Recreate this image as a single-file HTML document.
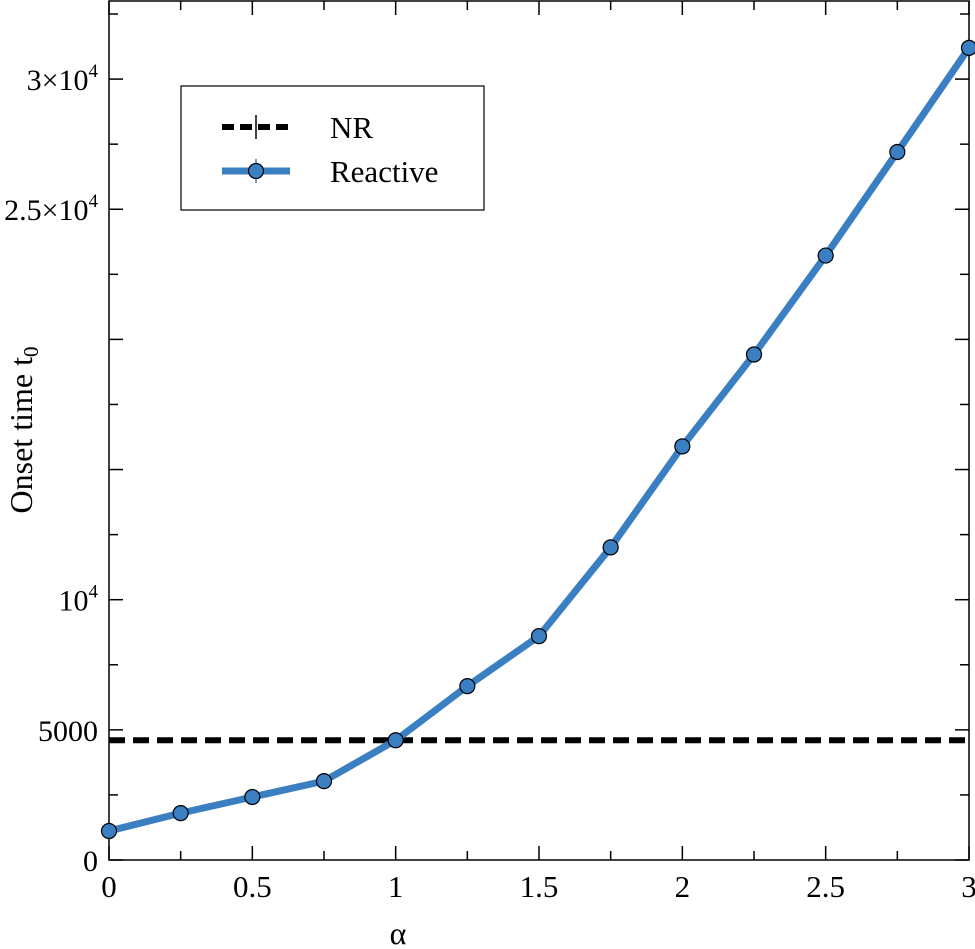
<!DOCTYPE html>
<html><head><meta charset="utf-8"><style>
body{margin:0;background:#fff}
svg{display:block;font-family:"Liberation Serif","Times New Roman",serif}
</style></head><body>
<svg id="c" width="975" height="949" viewBox="0 0 975 949">
</svg>
<script>
const alphas=[0,0.25,0.5,0.75,1,1.25,1.5,1.75,2,2.25,2.5,2.75,3];
const reactive=[1113,1800,2420,3030,4600,6680,8600,12010,15890,19420,23220,27200,31200];
const nrValue=4600;
const xTicks=[0,0.5,1,1.5,2,2.5,3];
const xTickLabels=["0","0.5","1","1.5","2","2.5","3"];
const yTicks=[0,5000,10000,25000,30000];
const yTickLabels=["0","5000","10^4","2.5×10^4","3×10^4"];
const NS="http://www.w3.org/2000/svg";
const svg=document.getElementById('c');
const L=109,R=969,T=1,B=860,YMAX=33000;
const X=a=>L+(a/3)*(R-L);
const Y=v=>B-(v/YMAX)*(B-T);
function mk(t,a,p){const e=document.createElementNS(NS,t);for(const k in a)e.setAttribute(k,a[k]);(p||svg).appendChild(e);return e;}
const fr=mk('rect',{x:L,y:T,width:R-L,height:B-T,fill:'none',stroke:'#000','stroke-width':1.5});


for(let a=0;a<=3.001;a+=0.25){const maj=Math.abs(a*2-Math.round(a*2))<1e-6;const len=maj?14:9;
mk('line',{x1:X(a),x2:X(a),y1:B,y2:B-len,stroke:'#000','stroke-width':1.5});
mk('line',{x1:X(a),x2:X(a),y1:T,y2:T+len,stroke:'#000','stroke-width':1.5});}
xTicks.forEach((a,i)=>{const t=mk('text',{x:X(a),y:897,'font-size':31,'text-anchor':'middle'});t.textContent=xTickLabels[i];

});
for(let v=0;v<=YMAX;v+=2500){const maj=v%5000===0;const len=maj?14:9;
mk('line',{x1:L,x2:L+len,y1:Y(v),y2:Y(v),stroke:'#000','stroke-width':1.5});
mk('line',{x1:R,x2:R-len,y1:Y(v),y2:Y(v),stroke:'#000','stroke-width':1.5});}
yTicks.forEach((v,i)=>{const t=mk('text',{x:98,y:Y(v)+11,'font-size':30,'text-anchor':'end'});
const s=yTickLabels[i];
if(s.includes('^')){const [b,e]=s.split('^');t.textContent=b;const sp=mk('tspan',{dy:-13,'font-size':19},t);sp.textContent=e;}
else t.textContent=s;

});
const yt=mk('text',{x:0,y:0,'font-size':32,'text-anchor':'middle',transform:'translate(32,430) rotate(-90)'});
yt.textContent='Onset time t';const sub=mk('tspan',{dy:6,'font-size':21},yt);sub.textContent='0';


const xt=mk('text',{x:398,y:944,'font-size':32,'text-anchor':'middle'});xt.textContent='α';


const nr=mk('line',{x1:L,x2:R,y1:Y(nrValue),y2:Y(nrValue),stroke:'#000','stroke-width':6,'stroke-dasharray':'16 8'});


const pl=mk('polyline',{points:alphas.map((a,i)=>X(a)+','+Y(reactive[i])).join(' '),fill:'none',stroke:'#3a7fc1','stroke-width':7,'stroke-linejoin':'round'});


alphas.forEach((a,i)=>{const c=mk('circle',{cx:X(a),cy:Y(reactive[i]),r:7.5,fill:'#3a7fc1',stroke:'#000','stroke-width':1.2});

});
const lg=mk('g',{});


mk('rect',{x:181,y:86,width:303,height:124,fill:'#fff',stroke:'#000','stroke-width':1.2},lg);
mk('line',{x1:222,x2:290,y1:127,y2:127,stroke:'#000','stroke-width':6,'stroke-dasharray':'12 6'},lg);
mk('line',{x1:256,x2:256,y1:115,y2:139,stroke:'#000','stroke-width':1.5},lg);
const t1=mk('text',{x:330,y:138,'font-size':31},lg);t1.textContent='NR';


mk('line',{x1:222,x2:290,y1:171,y2:171,stroke:'#3a7fc1','stroke-width':7},lg);
mk('line',{x1:256,x2:256,y1:159,y2:183,stroke:'#3a7fc1','stroke-width':1.5},lg);
mk('circle',{cx:256,cy:171,r:7.5,fill:'#3a7fc1',stroke:'#000','stroke-width':1.2},lg);
const t2=mk('text',{x:330,y:182,'font-size':31},lg);t2.textContent='Reactive';


</script>
</body></html>
